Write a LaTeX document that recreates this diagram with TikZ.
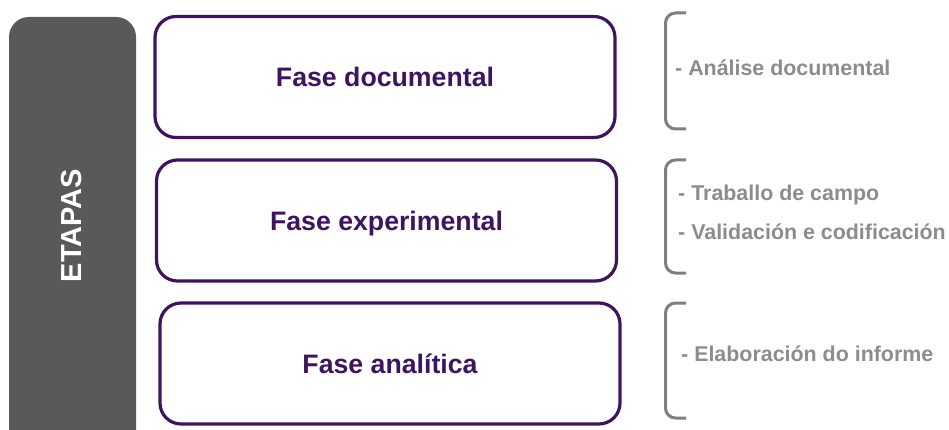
\documentclass[tikz,border=0pt]{standalone}
\usepackage{fontspec}
\setmainfont{Liberation Sans}
\definecolor{fasepurple}{HTML}{3E1460}
\definecolor{etapasgray}{HTML}{595959}
\definecolor{itemgray}{HTML}{8C8C8C}
\definecolor{bracketgray}{HTML}{7F7F7F}
\tikzset{
  fase/.style={draw=fasepurple, line width=3.2pt, rounded corners=21pt,
    minimum width=460pt, minimum height=121pt, text=fasepurple,
    text height=19pt, text depth=0pt,
    font=\fontsize{26.7}{30}\selectfont\bfseries},
  item/.style={anchor=base west, inner sep=0pt, text=itemgray,
    font=\fontsize{21.4}{25}\selectfont\bfseries},
  bracket/.style={draw=bracketgray, line width=3pt, rounded corners=10pt},
}
\begin{document}
\begin{tikzpicture}[x=1pt,y=-1pt]
\useasboundingbox (0,0) rectangle (949,430);
\fill [etapasgray, rounded corners=20pt] (9,17) rectangle (136,450);
\node (etapas) [rotate=90, text=white, font=\fontsize{29}{33}\selectfont\bfseries] at (72,225.5) {ETAPAS};
\node (documental) [fase] at (385,77) {Fase documental};
\node (experimental) [fase] at (386.5,220.5) {Fase experimental};
\node (analitica) [fase] at (390,363.5) {Fase analítica};
\draw [bracket] (686,13) -| (665.5,129) -- (686,129);
\draw [bracket] (686,160) -| (665.5,273) -- (686,273);
\draw [bracket] (686,303) -| (665.5,418) -- (686,418);
\node (analise) [item] at (675,76) {- Análise documental};
\node (traballo) [item] at (678,201) {- Traballo de campo};
\node (validacion) [item] at (678,240) {- Validación e codificación};
\node (elaboracion) [item] at (681,361) {- Elaboración do informe};
\end{tikzpicture}
\end{document}
